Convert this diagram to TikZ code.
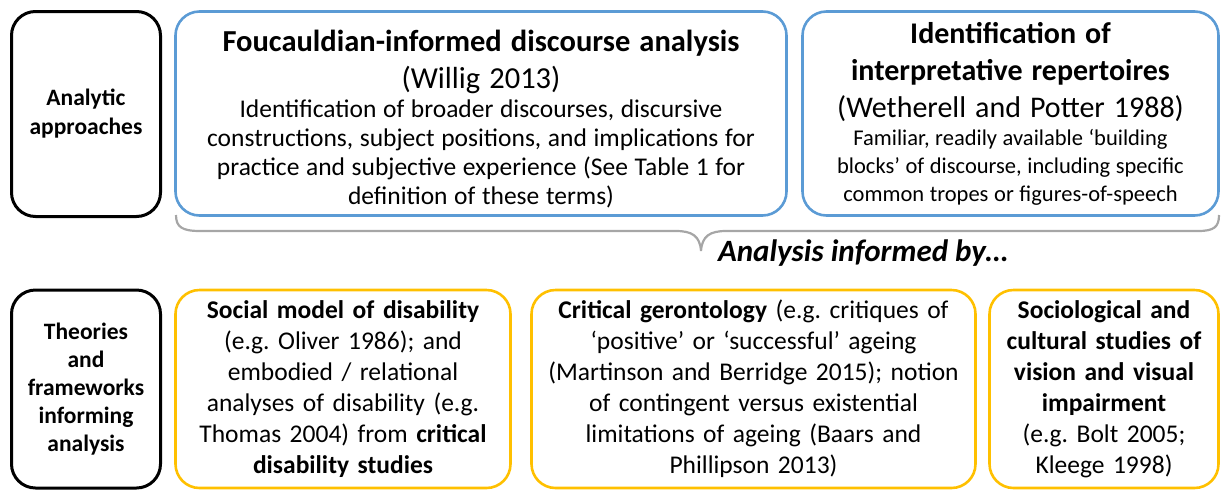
\documentclass[tikz,border=0pt]{standalone}
\usepackage{fontspec}
\setmainfont{Carlito}
\definecolor{boxblue}{HTML}{5B9BD5}
\definecolor{boxgold}{HTML}{FFC000}
\definecolor{bracegray}{HTML}{A6A6A6}
\frenchspacing
\begin{document}
\begin{tikzpicture}[x=1pt,y=-1pt,
  box/.style={draw, line width=3pt, rounded corners=24pt, align=center, inner sep=2pt, anchor=center},
  labelbox/.style={box, draw=black, font=\fontsize{23.5}{29}\selectfont\bfseries},
  apbox/.style={box, draw=boxblue, line width=2.6pt},
  thbox/.style={box, draw=boxgold, line width=2.6pt, font=\fontsize{25.5}{31}\selectfont},
  bracestyle/.style={draw=bracegray, line width=2.2pt},
]
\useasboundingbox (0,0) rectangle (1223,491);

\newcommand\ttlb[1]{{\fontsize{30.5}{37}\selectfont\bfseries\spaceskip=0.3em\relax #1\par}}
\newcommand\ttlr[1]{{\fontsize{30.5}{37}\selectfont\spaceskip=0.3em\relax #1\par}}
\newcommand\ttlbr[1]{{\fontsize{30}{37}\selectfont\bfseries\spaceskip=0.3em\relax #1\par}}
\newcommand\ttlrr[1]{{\fontsize{30}{37}\selectfont\spaceskip=0.3em\relax #1\par}}
\newcommand\bdyl[1]{{\fontsize{25.5}{29}\selectfont\spaceskip=0.26em\relax #1\par}}
\newcommand\bdyr[1]{{\fontsize{22.5}{28}\selectfont\spaceskip=0.25em\relax #1\par}}

% top row
\node[labelbox, minimum width=149pt, minimum height=205pt, text width=144pt] (lab1) at (86,114)
  {Analytic\\approaches};
\node[apbox, minimum width=611pt, minimum height=204pt, text width=605pt] (fda) at (481,113.5) {};
\node[align=center, text width=605pt, inner sep=0pt] (fdatxt) at (481,119)
  {\ttlb{Foucauldian-informed discourse analysis}
   \ttlr{(Willig 2013)}
   \bdyl{Identification of broader discourses, discursive\\
   constructions, subject positions, and implications for\\
   practice and subjective experience (See Table 1 for\\
   definition of these terms)}};
\node[apbox, minimum width=416pt, minimum height=204pt, text width=410pt] (rep) at (1010.5,113.5)
  {\ttlbr{Identification of\\ interpretative repertoires}
   \ttlrr{(Wetherell and Potter 1988)}
   \bdyr{Familiar, readily available ‘building\\
   blocks’ of discourse, including specific\\
   common tropes or figures-of-speech}};

% brace
\coordinate (bl) at (176,215);
\coordinate (bt) at (701,251);
\coordinate (br) at (1219,215);
\draw[bracestyle] (bl) .. controls (176,227) and (182,231) .. (200,231) -- (676,231)
  .. controls (692,231) and (700,236) .. (bt)
  .. controls (702,236) and (710,231) .. (726,231) -- (1198,231)
  .. controls (1214,231) and (1219,227) .. (br);
\node[font=\fontsize{31}{34}\selectfont\bfseries\itshape, anchor=center] (inf) at (863,253) {Analysis informed by…};

% bottom row
\node[labelbox, minimum width=149pt, minimum height=198pt, text width=144pt, font=\fontsize{23.5}{28}\selectfont\bfseries] (lab2) at (86,389)
  {Theories\\and\\frameworks\\informing\\analysis};
\node[thbox, minimum width=335pt, minimum height=198pt, text width=330pt] (soc) at (343,389)
  {\textbf{Social model of disability}\\
   (e.g. Oliver 1986); and\\
   embodied / relational\\
   analyses of disability (e.g.\\
   Thomas 2004) from \textbf{critical}\\
   \textbf{disability studies}};
\node[thbox, minimum width=444pt, minimum height=198pt, text width=438pt] (ger) at (753.5,389)
  {\textbf{Critical gerontology} (e.g. critiques of\\
   ‘positive’ or ‘successful’ ageing\\
   (Martinson and Berridge 2015); notion\\
   of contingent versus existential\\
   limitations of ageing (Baars and\\
   Phillipson 2013)};
\node[thbox, minimum width=229pt, minimum height=198pt, text width=224pt] (vis) at (1104,389)
  {\textbf{Sociological and}\\
   \textbf{cultural studies of}\\
   \textbf{vision and visual}\\
   \textbf{impairment}\\
   (e.g. Bolt 2005;\\
   Kleege 1998)};
\end{tikzpicture}
\end{document}
